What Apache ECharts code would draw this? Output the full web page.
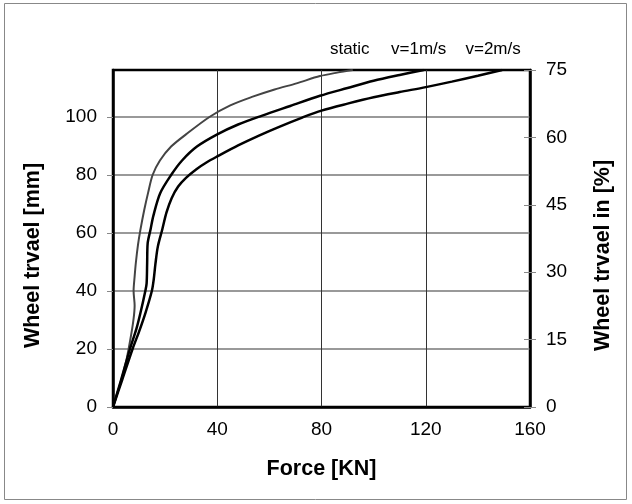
<!DOCTYPE html>
<html>
<head>
<meta charset="utf-8">
<script src="https://cdn.jsdelivr.net/npm/echarts@6/dist/echarts.min.js"></script>
<style>
html, body { margin: 0; padding: 0; background: #fff; }
#main { width: 632px; height: 504px; }
</style>
</head>
<body>
<div id="main"></div>
<script>
// force [KN], wheel travel [mm]
var staticData = [[0,0],[4,12],[6,20],[8.3,35],[7.9,40],[8.3,45],[8.8,50],[9.6,56],[10.5,61],[12,68],[13.5,74],[15.2,80],[18,85],[22.3,89.8],[28,94],[37,100],[45,104],[53.6,107],[62,109.5],[70.4,111.6],[79.4,114.1],[86,115.3],[92,116.2]];
var v1Data = [[0,0],[3,9],[6.5,20],[9,27],[10.5,32.3],[12.4,40],[12.9,42.6],[13.1,49.5],[13.3,56.4],[14.4,61.2],[15.5,66],[18.1,73.7],[22.3,80],[26.5,85],[32.2,89.8],[40,94],[48,97.4],[57,100.4],[68,103.8],[79.4,107.3],[90,110],[100,112.5],[110,114.5],[119.2,116.2]];
var v2Data = [[0,0],[3.5,9.3],[7.5,20],[10,26],[12.4,32.3],[14.9,40],[15.6,43.8],[16.3,49.5],[17.2,55.3],[18.9,61.2],[20.5,67],[22.5,72],[25,76],[28,79],[32,82],[36,84.4],[40,86.4],[48,90.2],[56,93.6],[64,96.7],[72.6,99.8],[80,102.2],[90,104.6],[100,106.8],[110,108.6],[120,110.3],[130,112.2],[140,114.2],[149.3,116.2]];
var seriesNames = ['static', 'v=1m/s', 'v=2m/s'];
var travelMax = 116.2;   // mm at top of plot
var percentMax = 75;     // same height in %

var chart = echarts.init(document.getElementById('main'));
var font = 'Liberation Sans, Arial, sans-serif';

function endMark(data, name, dx) {
    return {
        symbol: 'circle',
        symbolSize: 0,
        silent: true,
        data: [{ coord: data[data.length - 1] }],
        label: {
            show: true,
            formatter: name,
            position: 'top',
            distance: 12,
            offset: [dx, 0],
            color: '#000',
            fontFamily: font,
            fontSize: 17
        }
    };
}

var nameStyle = { fontFamily: font, fontSize: 21.5, fontWeight: 'bold', color: '#000' };

var option = {
    backgroundColor: '#fff',
    animation: false,
    graphic: [{
        type: 'rect',
        shape: { x: 4.5, y: 3.5, width: 622, height: 496 },
        style: { fill: 'none', stroke: '#888', lineWidth: 1 },
        silent: true
    }],
    grid: {
        left: 113, right: 102, top: 70, bottom: 97,
        show: true, borderColor: '#000', borderWidth: 2.5, backgroundColor: 'transparent'
    },
    xAxis: {
        type: 'value',
        min: 0, max: 160, interval: 40,
        name: 'Force [KN]',
        nameLocation: 'middle',
        nameGap: 51,
        nameTextStyle: nameStyle,
        axisLine: { show: true, lineStyle: { color: '#000', width: 2.5 } },
        axisTick: { show: false },
        axisLabel: { margin: 13, fontFamily: font, fontSize: 19, color: '#000' },
        splitLine: { show: true, showMinLine: false, showMaxLine: false, lineStyle: { color: '#333', width: 1 } }
    },
    yAxis: [{
        type: 'value',
        position: 'left',
        min: 0, max: travelMax, interval: 20,
        name: 'Wheel trvael [mm]',
        nameLocation: 'middle',
        nameRotate: 90,
        nameGap: 69,
        nameTextStyle: Object.assign({ padding: [0, 34, 0, 0] }, nameStyle),
        axisLine: { show: true, lineStyle: { color: '#000', width: 2.5 } },
        axisTick: { show: true, length: 6, lineStyle: { color: '#888', width: 1 } },
        axisLabel: { margin: 16, showMaxLabel: false, fontFamily: font, fontSize: 19, color: '#000' },
        splitLine: { show: true, showMinLine: false, showMaxLine: false, lineStyle: { color: '#999', width: 2 } }
    }, {
        type: 'value',
        position: 'right',
        min: 0, max: percentMax, interval: 15,
        name: 'Wheel trvael in [%]',
        nameLocation: 'middle',
        nameRotate: 90,
        nameGap: 62,
        nameTextStyle: Object.assign({ padding: [0, 34, 0, 0] }, nameStyle),
        axisLine: { show: true, lineStyle: { color: '#000', width: 2.5 } },
        axisTick: { show: true, length: 6, lineStyle: { color: '#888', width: 1 } },
        axisLabel: { margin: 16, fontFamily: font, fontSize: 19, color: '#000' },
        splitLine: { show: false }
    }, {
        type: 'value',
        position: 'right',
        min: 0, max: percentMax, interval: 15,
        axisLine: { show: false },
        axisTick: { show: true, inside: true, length: 6, lineStyle: { color: '#888', width: 1 } },
        axisLabel: { show: false },
        splitLine: { show: false }
    }],
    series: [{
        name: seriesNames[0],
        type: 'line',
        data: staticData,
        smooth: 0.3,
        showSymbol: false,
        lineStyle: { color: '#444', width: 2 },
        markPoint: endMark(staticData, seriesNames[0], -3)
    }, {
        name: seriesNames[1],
        type: 'line',
        data: v1Data,
        smooth: 0.3,
        showSymbol: false,
        lineStyle: { color: '#000', width: 2.5 },
        markPoint: endMark(v1Data, seriesNames[1], -5)
    }, {
        name: seriesNames[2],
        type: 'line',
        data: v2Data,
        smooth: 0.3,
        showSymbol: false,
        lineStyle: { color: '#000', width: 2.5 },
        markPoint: endMark(v2Data, seriesNames[2], -9)
    }]
};
chart.setOption(option);
window.addEventListener('resize', chart.resize);
</script>
</body>
</html>
